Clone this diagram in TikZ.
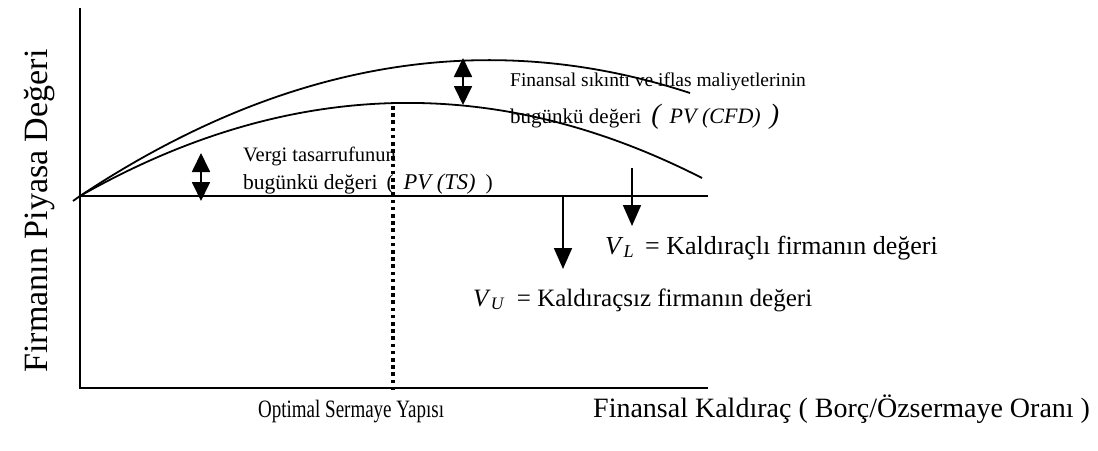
\documentclass[tikz,border=0pt]{standalone}
\usepackage{fontspec}
\setmainfont{Liberation Serif}
\usetikzlibrary{arrows.meta}
\tikzset{
  ln/.style={line width=1.8pt},
  dbl/.style={line width=1.8pt,{Triangle[width=18pt,length=19pt]}-{Triangle[width=18pt,length=19pt]}},
  down/.style={line width=1.8pt,-{Triangle[width=18pt,length=21pt]}},
  lbl/.style={inner sep=0pt,anchor=base west},
  dots/.style={line width=3.2pt,dash pattern=on 3.6pt off 3.6pt}
}
\newcommand{\fs}[1]{\fontsize{#1}{#1}\selectfont}
\begin{document}
\begin{tikzpicture}[x=1pt,y=-1pt]
\useasboundingbox (0,0) rectangle (1098,450);
% axes
\coordinate (ytop) at (80,8);
\coordinate (o) at (80,388);
\coordinate (xend) at (708,388);
\coordinate (vu0) at (80,196);
\coordinate (vu1) at (708,196);
\draw[ln] (ytop) -- (o) -- (xend);
\draw[ln] (vu0) -- (vu1);
% curves
\coordinate (s) at (73,201);
\coordinate (ue) at (690,93);
\coordinate (le) at (702,178);
\draw[ln] (s) -- (vu0) .. controls (283.5,61) and (486.7,26.5) .. (ue);
\draw[ln] (vu0) .. controls (287.4,78.2) and (494.7,72.2) .. (le);
% optimal line
\coordinate (d0) at (393,106);
\coordinate (d1) at (393,390);
\draw[dots] (d0) -- (d1);
% double arrows
\coordinate (a1t) at (201,153);
\coordinate (a1b) at (201,201);
\draw[dbl] (a1t) -- (a1b);
\coordinate (a2t) at (463,58);
\coordinate (a2b) at (463,105);
\draw[dbl] (a2t) -- (a2b);
% down arrows
\coordinate (vlt) at (632,168);
\coordinate (vlb) at (632,226);
\draw[down] (vlt) -- (vlb);
\coordinate (vut) at (563,196);
\coordinate (vub) at (563,269);
\draw[down] (vut) -- (vub);
% texts
\node[lbl,font=\fs{19.5}] (f1) at (510,86) {Finansal sıkıntı ve iflas maliyetlerinin};
\node[lbl,font=\fs{21}] (f2) at (510,123) {bugünkü değeri\hspace{10pt}{\fs{28}\itshape(}\hspace{9pt}{\fs{22}\itshape PV (CFD)}\hspace{9pt}{\fs{28}\itshape)}};
\node[lbl,font=\fs{20.5}] (v1) at (243,161) {Vergi tasarrufunun};
\node[lbl,font=\fs{21.5}] (v2) at (243,189) {bugünkü değeri\hspace{9pt}(\hspace{10pt}{\fs{22.5}\itshape PV (TS)}\hspace{10pt})};
\node[lbl,font=\fs{26}] (vl) at (605,254) {\textit{V}\textsubscript{\textit{L}}\hspace{11pt}= Kaldıraçlı firmanın değeri};
\node[lbl,font=\fs{25}] (vu) at (473,306) {\textit{V}\textsubscript{\textit{U}}\hspace{12pt}= Kaldıraçsız firmanın değeri};
\node[lbl,font=\fs{25},xscale=0.76] (opt) at (258,417) {Optimal Sermaye Yapısı};
\node[lbl,font=\fs{28}] (fk) at (593,417) {Finansal Kaldıraç ( Borç/Özsermaye Oranı )};
\node[inner sep=0pt,rotate=90,font=\fs{34}] (yl) at (40,211) {Firmanın Piyasa Değeri};
\end{tikzpicture}
\end{document}
